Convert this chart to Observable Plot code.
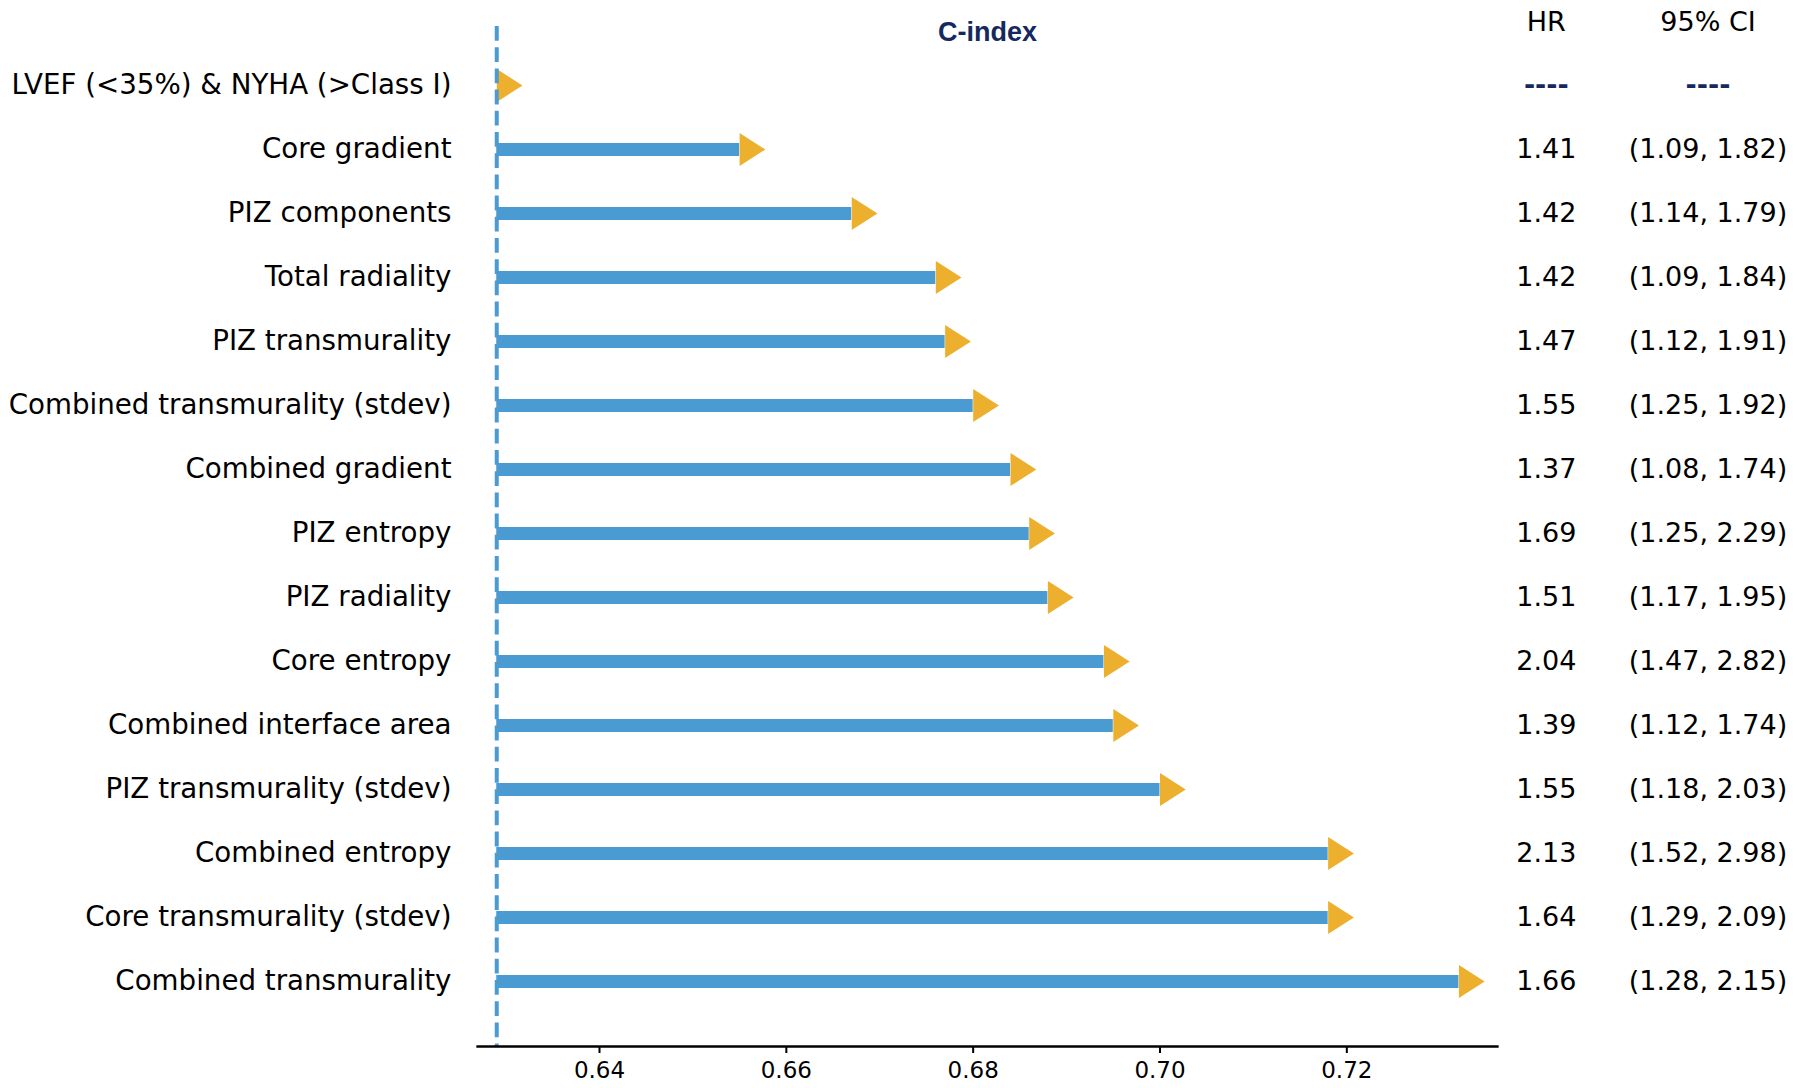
<!DOCTYPE html>
<html><head><meta charset="utf-8">
<script src="https://cdn.jsdelivr.net/npm/d3@7"></script>
<script src="https://cdn.jsdelivr.net/npm/@observablehq/plot@0.6"></script>
<style>html,body{margin:0;padding:0;background:#fff}</style>
</head><body><div id="chart"></div>
<script>
const labels = [
  "LVEF (<35%) & NYHA (>Class I)",
  "Core gradient",
  "PIZ components",
  "Total radiality",
  "PIZ transmurality",
  "Combined transmurality (stdev)",
  "Combined gradient",
  "PIZ entropy",
  "PIZ radiality",
  "Core entropy",
  "Combined interface area",
  "PIZ transmurality (stdev)",
  "Combined entropy",
  "Core transmurality (stdev)",
  "Combined transmurality"
];
const cindex = [0.629, 0.655, 0.667, 0.676, 0.677, 0.680, 0.684, 0.686, 0.688, 0.694, 0.695, 0.700, 0.718, 0.718, 0.732];
const hr = ["----", "1.41", "1.42", "1.42", "1.47", "1.55", "1.37", "1.69", "1.51", "2.04", "1.39", "1.55", "2.13", "1.64", "1.66"];
const ci = ["----", "(1.09, 1.82)", "(1.14, 1.79)", "(1.09, 1.84)", "(1.12, 1.91)", "(1.25, 1.92)", "(1.08, 1.74)", "(1.25, 2.29)", "(1.17, 1.95)", "(1.47, 2.82)", "(1.12, 1.74)", "(1.18, 2.03)", "(1.52, 2.98)", "(1.29, 2.09)", "(1.28, 2.15)"];
const baseline = 0.629;
const xTicks = [0.64, 0.66, 0.68, 0.70, 0.72];
const xDomain = [0.62694, 0.73613];

const rows = labels.map((name, i) => ({name, value: cindex[i], hr: hr[i], ci: ci[i]}));
const filled = rows.filter(d => d.hr !== "----");
const missing = rows.filter(d => d.hr === "----");

const blue = "#4a9bd1";
const gold = "#ecb02e";
const navy = "#15295e";

// right-pointing triangle whose base sits on the data position
const arrowHead = {
  draw(context, size) {
    const r = Math.sqrt(size / Math.PI);
    context.moveTo(0, -r);
    context.lineTo(1.56 * r, 0);
    context.lineTo(0, r);
    context.closePath();
  }
};

const chart = Plot.plot({
  width: 1796,
  height: 1088,
  marginLeft: 477,
  marginRight: 299,
  marginTop: 26,
  marginBottom: 42,
  style: {fontFamily: "DejaVu Sans", background: "#fff", color: "#000"},
  x: {domain: xDomain},
  y: {type: "point", domain: labels, range: [83.3, 981.7], padding: 0},
  marks: [
    Plot.ruleY(rows, {y: "name", x1: baseline, x2: "value", stroke: blue, strokeWidth: 13}),
    Plot.dot(rows, {y: "name", x: "value", r: 16.5, symbol: arrowHead, fill: gold, stroke: "none"}),
    Plot.ruleX([baseline], {stroke: blue, strokeWidth: 4, strokeDasharray: "14.8 6.4"}),
    Plot.frame({anchor: "bottom", stroke: "#000", strokeWidth: 2.3}),
    Plot.axisX({ticks: xTicks, tickFormat: d3.format(".2f"), tickSize: 7, tickPadding: 8, fontSize: 23, strokeWidth: 2, label: null, fill: "#000"}),
    Plot.axisY({tickSize: 0, tickPadding: 26, fontSize: 27.7, label: null, fill: "#000"}),
    Plot.text(["C-index"], {frameAnchor: "top", dy: -4.3, fontFamily: "Liberation Sans, Arial, sans-serif", fontWeight: "bold", fontSize: 27, fill: navy}),
    Plot.text(["HR"], {frameAnchor: "top-right", textAnchor: "middle", dx: 48.8, dy: -15, fontSize: 27, fill: "#000"}),
    Plot.text(["95% CI"], {frameAnchor: "top-right", textAnchor: "middle", dx: 210.5, dy: -15, fontSize: 27, fill: "#000"}),
    Plot.text(filled, {y: "name", text: "hr", frameAnchor: "right", textAnchor: "middle", dx: 48.8, fontSize: 27, fill: "#000"}),
    Plot.text(filled, {y: "name", text: "ci", frameAnchor: "right", textAnchor: "middle", dx: 210.5, fontSize: 27, fill: "#000"}),
    Plot.text(missing, {y: "name", text: "hr", frameAnchor: "right", textAnchor: "middle", dx: 48.8, fontSize: 27, fontWeight: "bold", fill: navy}),
    Plot.text(missing, {y: "name", text: "ci", frameAnchor: "right", textAnchor: "middle", dx: 210.5, fontSize: 27, fontWeight: "bold", fill: navy})
  ]
});
document.getElementById("chart").append(chart);
</script>
</body></html>
